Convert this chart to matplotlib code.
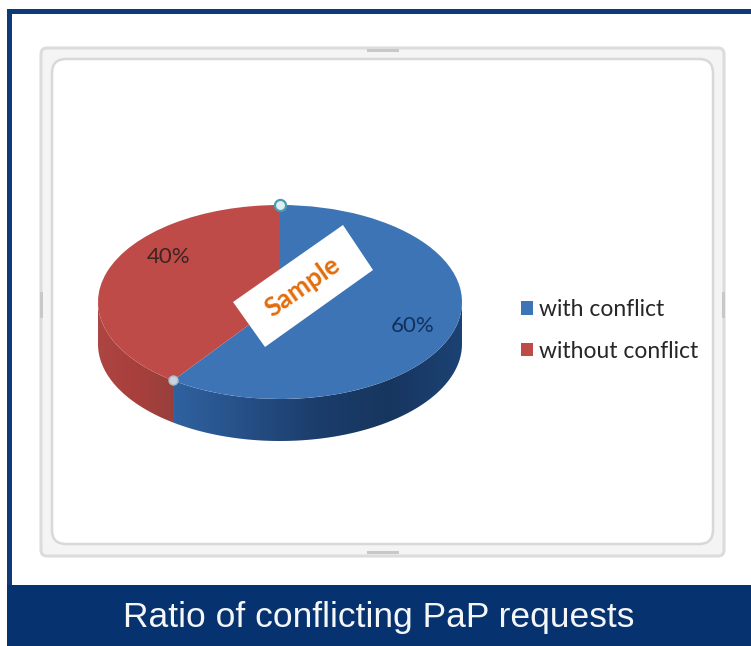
import numpy as np
import matplotlib
matplotlib.use('Agg')
import matplotlib.pyplot as plt
from matplotlib.colors import LinearSegmentedColormap
from matplotlib.patches import FancyBboxPatch, Polygon, Rectangle

categories = ['with conflict', 'without conflict']
shares = [60, 40]
top_colors = ['#3d74b6', '#be4b48']
title = 'Ratio of conflicting PaP requests'

W, H = 751, 646
fig = plt.figure(figsize=(W / 100, H / 100), dpi=100, facecolor='white')

# background layer in image pixels
bg = fig.add_axes([0, 0, 1, 1], zorder=0)
bg.set_xlim(0, W)
bg.set_ylim(H, 0)
bg.axis('off')
navy = '#0f3a78'
bg.add_patch(Rectangle((7, 9), W - 7, 4.5, color=navy, lw=0))
bg.add_patch(Rectangle((7, 9), 5, 580, color=navy, lw=0))
bg.add_patch(Rectangle((7, 585), W - 7, 61, color='#06336f', lw=0))
bg.text(378.5, 617, title, color='#f4f6f8', fontsize=25.5, family='Liberation Sans',
        ha='center', va='center')

# chart area frame
bg.add_patch(FancyBboxPatch((41, 48), 683, 508, boxstyle='round,pad=0,rounding_size=6',
                            fc='#f4f4f4', ec='#dcdcdc', lw=2.2))
bg.add_patch(FancyBboxPatch((52, 59), 661, 485, boxstyle='round,pad=0,rounding_size=14',
                            fc='white', ec='#d8d8d8', lw=1.8))
for x, y, w, h in [(367, 49, 32, 3), (367, 551, 32, 3), (40, 292, 3, 26), (722, 292, 3, 26)]:
    bg.add_patch(Rectangle((x, y), w, h, color='#c8c8c8', lw=0))

# pie, flattened into an ellipse, with a side wall below it
depth = 42 / 97
left, right, top, bottom = 98, 462, 205, 441
pie_ax = fig.add_axes([left / W, 1 - bottom / H, (right - left) / W, (bottom - top) / H], zorder=1)
wedges, _ = pie_ax.pie(shares, colors=top_colors, startangle=90, counterclock=False, radius=1,
                       wedgeprops={'linewidth': 0})
pie_ax.set_aspect('auto')
pie_ax.axis('off')
for w in wedges:
    w.set_zorder(5)

split = 90 - 360 * shares[0] / sum(shares)


def side_wall(t0, t1):
    t = np.radians(np.linspace(t0, t1, 120))
    low = np.column_stack([np.cos(t), np.sin(t) - depth])
    up = np.column_stack([np.cos(t), np.sin(t)])[::-1]
    return np.vstack([low, up])


blue_side = LinearSegmentedColormap.from_list('b', ['#2f62a0', '#264f86', '#1b3d6b', '#17365f', '#1c4274'])
red_side = LinearSegmentedColormap.from_list('r', ['#ad4542', '#a83f3d', '#98403c'])
grad = np.linspace(0, 1, 256).reshape(1, -1)

blue_poly = Polygon(side_wall(split, 0), closed=True, transform=pie_ax.transData, fc='none', lw=0)
pie_ax.add_patch(blue_poly)
x0 = np.cos(np.radians(split))
y0 = np.sin(np.radians(split))
im = pie_ax.imshow(grad, cmap=blue_side, extent=[x0, 1, -1 - depth, 1], aspect='auto', zorder=2)
im.set_clip_path(blue_poly)

red_poly = Polygon(side_wall(-180, split), closed=True, transform=pie_ax.transData, fc='none', lw=0)
pie_ax.add_patch(red_poly)
im2 = pie_ax.imshow(grad, cmap=red_side, extent=[-1, x0, -1 - depth, 1], aspect='auto', zorder=2)
im2.set_clip_path(red_poly)

# selection handles sit on the slice boundary
pie_ax.plot([0], [1], 'o', ms=8, mfc='#dff0f4', mec='#4f9bad', mew=1.6, zorder=7, clip_on=False)
pie_ax.plot([x0], [y0], 'o', ms=6.5, mfc='#c9d3dc', mec='#a9bccb', mew=1, zorder=7, clip_on=False)
pie_ax.set_xlim(-1, 1)
pie_ax.set_ylim(-1 - depth, 1)

# labels and annotations on top
fg = fig.add_axes([0, 0, 1, 1], zorder=2)
fg.set_xlim(0, W)
fg.set_ylim(H, 0)
fg.axis('off')
fg.patch.set_alpha(0)
fg.text(413, 326, f'{shares[0]}%', color='#12305c', fontsize=16, family='Lato', ha='center', va='center')
fg.text(169, 257, f'{shares[1]}%', color='#3d2422', fontsize=16, family='Lato', ha='center', va='center')
fg.text(303, 287, 'Sample', rotation=35, rotation_mode='anchor', color='#e46c0a', fontsize=19,
        family='Lato', weight='bold', ha='center', va='center', zorder=6)
fg.add_patch(Polygon([(233, 302), (343, 225), (373, 270), (265, 347)], closed=True, fc='white', lw=0, zorder=5))

leg = fig.legend(wedges, categories, loc='upper left', bbox_to_anchor=(521 / W, 1 - 299 / H),
                 frameon=False, prop={'family': 'Lato', 'size': 16.5}, labelcolor='#262626',
                 handlelength=0.52, handleheight=0.52, handletextpad=0.27, labelspacing=0.9,
                 borderpad=0, borderaxespad=0)

fig.savefig('out.png', dpi=100)
